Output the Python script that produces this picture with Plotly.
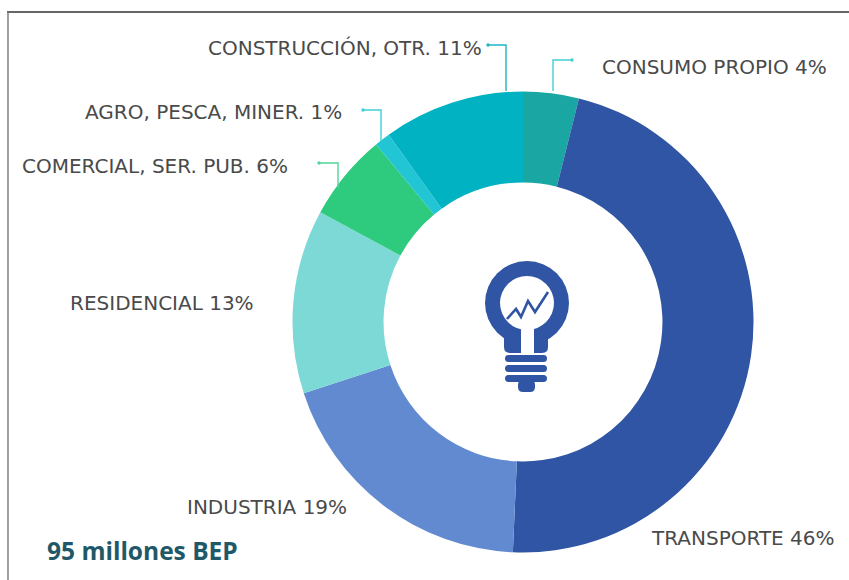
import plotly.graph_objects as go

W, H = 849, 580

categories = ["CONSUMO PROPIO", "TRANSPORTE", "INDUSTRIA", "RESIDENCIAL",
              "COMERCIAL, SER. PUB.", "AGRO, PESCA, MINER.", "CONSTRUCCIÓN, OTR."]
printed_pct = [4, 46, 19, 13, 6, 1, 11]
slice_shares = [3.9, 46.8, 19.3, 12.9, 6.1, 1.1, 9.9]
colors = ["#1aa6a3", "#2f55a4", "#628ad0", "#7dd9d6", "#2ecb7e", "#22c5d3", "#00b2c2"]

# Label placement: (centre x, centre y)
label_pos = [(714, 67), (743, 538), (267, 507), (162, 303),
             (155, 166), (213, 112), (345, 48)]
total_label = "95 millones BEP"

BLUE = "#2f55a4"
TEXT = "#4a4a4a"


def px(x):
    return x / W


def py(y):
    return 1 - y / H


def path(cmds):
    out = []
    for c in cmds:
        if isinstance(c, str):
            out.append(c)
        else:
            out.append(f"{px(c[0]):.5f},{py(c[1]):.5f}")
    return " ".join(out)


def polyline(pts):
    cmds = []
    for i, p in enumerate(pts):
        cmds += ["M" if i == 0 else "L", p]
    return path(cmds)


def rrect(x0, y0, x1, y1, r):
    return path(["M", (x0 + r, y0), "L", (x1 - r, y0), "Q", (x1, y0), (x1, y0 + r),
                 "L", (x1, y1 - r), "Q", (x1, y1), (x1 - r, y1),
                 "L", (x0 + r, y1), "Q", (x0, y1), (x0, y1 - r),
                 "L", (x0, y0 + r), "Q", (x0, y0), (x0 + r, y0), "Z"])


shapes = []


def line_shape(pts, color, width):
    shapes.append(dict(type="path", xref="paper", yref="paper", path=polyline(pts),
                       line=dict(color=color, width=width), fillcolor="rgba(0,0,0,0)", layer="above"))


def fill_path(p, color):
    shapes.append(dict(type="path", xref="paper", yref="paper", path=p,
                       line=dict(width=0), fillcolor=color, layer="above"))


def circle(cx, cy, r, color):
    shapes.append(dict(type="circle", xref="paper", yref="paper",
                       x0=px(cx - r), x1=px(cx + r), y0=py(cy + r), y1=py(cy - r),
                       line=dict(width=0), fillcolor=color, layer="above"))


# Frame (top and left edges only)
line_shape([(7, 12), (849, 12)], "#333333", 1.5)
line_shape([(8, 12), (8, 580)], "#808080", 1.5)

# Leader lines with small end dots
leaders = [
    ([(488, 45), (506, 45), (506, 91)], "#1fb5c4"),
    ([(572, 60), (553, 60), (553, 91)], "#45cfd6"),
    ([(363, 110), (381, 110), (381, 141)], "#3fd0d8"),
    ([(319, 163), (338, 163), (338, 188)], "#4fd69a"),
]
for pts, col in leaders:
    line_shape(pts, col, 1.4)
    circle(pts[0][0], pts[0][1], 1.7, col)

# Light-bulb icon
circle(527, 303, 42, BLUE)
fill_path(rrect(504, 325, 548, 353, 6), BLUE)
circle(527, 303, 27, "#ffffff")
fill_path(rrect(521, 322, 534, 356, 1), "#ffffff")
fill_path(rrect(505, 355, 547, 362, 3.5), BLUE)
fill_path(rrect(505, 365, 547, 372, 3.5), BLUE)
fill_path(rrect(505, 375, 547, 382, 3.5), BLUE)
fill_path(rrect(518, 380, 535, 392, 5), BLUE)
line_shape([(507, 319), (516, 309), (521, 317), (528, 301), (535, 312), (548, 292)], BLUE, 2.6)

annotations = []
for name, pct, (x, y) in zip(categories, printed_pct, label_pos):
    annotations.append(dict(text=f"{name} {pct}%", xref="paper", yref="paper", x=px(x), y=py(y),
                            xanchor="center", yanchor="middle", showarrow=False,
                            font=dict(family="DejaVu Sans, sans-serif", size=20, color=TEXT)))
annotations.append(dict(text=f"<b>{total_label}</b>", xref="paper", yref="paper", x=px(45), y=py(550),
                        xanchor="left", yanchor="middle", showarrow=False,
                        font=dict(family="Open Sans, sans-serif", size=24.5, color="#215868")))

fig = go.Figure(go.Pie(
    labels=categories, values=slice_shares, sort=False, direction="clockwise", rotation=0,
    hole=0.605, marker=dict(colors=colors, line=dict(width=0)), textinfo="none", showlegend=False,
    domain=dict(x=[px(292.5), px(753.5)], y=[py(553), py(91)]),
))
fig.update_layout(width=W, height=H, margin=dict(l=0, r=0, t=0, b=0), paper_bgcolor="#ffffff",
                  shapes=shapes, annotations=annotations)
fig.write_html("out.html", config=dict(displayModeBar=False),
               post_script="document.body.style.margin='0';document.documentElement.style.overflow='hidden';")
